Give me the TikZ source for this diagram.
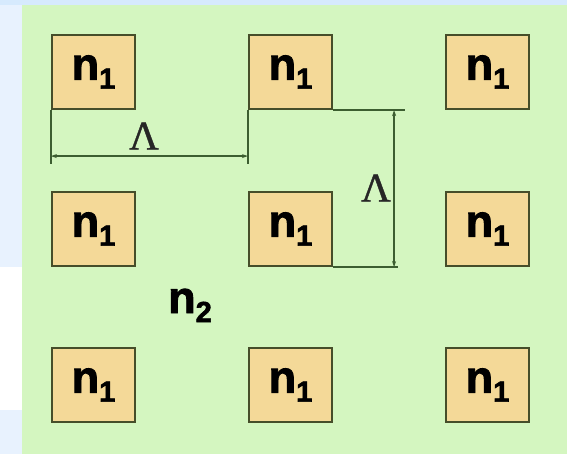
\documentclass[tikz,border=0pt]{standalone}
\usepackage{fontspec}
\setmainfont{Liberation Serif}
\newfontfamily\hvb{Liberation Sans}[FakeBold=2]
\newfontfamily\lamfont{Liberation Serif}[FakeBold=1]
\usetikzlibrary{arrows.meta}
\definecolor{bgblue}{RGB}{232,242,254}
\definecolor{topblue}{RGB}{214,234,253}
\definecolor{fieldgreen}{RGB}{212,246,192}
\definecolor{cellfill}{RGB}{244,217,152}
\definecolor{cellline}{RGB}{70,78,42}
\definecolor{dimline}{RGB}{60,94,48}
\tikzset{
  cell/.style={draw=cellline, line width=2.2pt, fill=cellfill, minimum width=83pt, minimum height=74pt, inner sep=0pt, font=\hvb\bfseries\fontsize{45}{45}\selectfont},
  dimext/.style={draw=dimline, line width=1.5pt},
  dimarr/.style={draw=dimline, line width=1.5pt, {Stealth[length=6pt,width=4pt]}-{Stealth[length=6pt,width=4pt]}},
  lam/.style={inner sep=0pt, font=\lamfont\fontsize{41}{41}\selectfont, text=black!85}
}
\newcommand{\nsub}[1]{n\raisebox{-9pt}{\fontsize{29}{29}\selectfont #1}}
\begin{document}
\begin{tikzpicture}[x=1pt,y=-1pt]
\useasboundingbox (0,0) rectangle (567,454);
% background
\fill[white] (0,0) rectangle (567,454);
\fill[bgblue] (0,0) rectangle (22,267);
\fill[bgblue] (0,410) rectangle (22,454);
\fill[topblue] (0,0) rectangle (567,5);
\fill[fieldgreen] (22,5) rectangle (567,454);
% cells
\node[cell] (b11) at (93.5,72) {\nsub{1}};
\node[cell] (b12) at (290.5,72) {\nsub{1}};
\node[cell] (b13) at (487.5,72) {\nsub{1}};
\node[cell] (b21) at (93.5,229) {\nsub{1}};
\node[cell] (b22) at (290.5,229) {\nsub{1}};
\node[cell] (b23) at (487.5,229) {\nsub{1}};
\node[cell] (b31) at (93.5,385) {\nsub{1}};
\node[cell] (b32) at (290.5,385) {\nsub{1}};
\node[cell] (b33) at (487.5,385) {\nsub{1}};
% horizontal dimension
\coordinate (h1) at ([yshift=-46pt]b11.south west);
\coordinate (h2) at ([yshift=-46pt]b12.south west);
\draw[dimext] (b11.south west) -- ([yshift=-8pt]h1);
\draw[dimext] (b12.south west) -- ([yshift=-8pt]h2);
\draw[dimarr] (h1) -- (h2);
\node[lam] (lamh) at (144,136) {Λ};
% vertical dimension
\coordinate (v1) at ([xshift=61pt]b12.south east);
\coordinate (v2) at ([xshift=61pt]b22.south east);
\draw[dimext] (b12.south east) -- ([xshift=11pt]v1);
\draw[dimext] (b22.south east) -- ([xshift=4pt]v2);
\draw[dimarr] (v1) -- (v2);
\node[lam] (lamv) at (376,188) {Λ};
% n2 label
\node[inner sep=0pt, anchor=base west, font=\hvb\bfseries\fontsize{45}{45}\selectfont] (n2) at (168,313) {\nsub{2}};
\end{tikzpicture}
\end{document}
